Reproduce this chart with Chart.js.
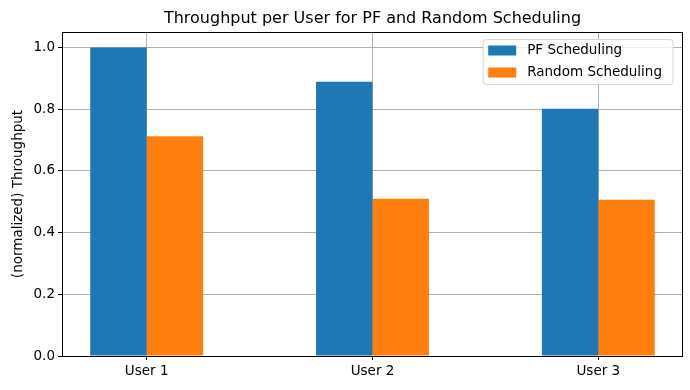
<!DOCTYPE html>
<html>
<head>
<meta charset="utf-8">
<script src="https://cdn.jsdelivr.net/npm/chart.js@4/dist/chart.umd.min.js"></script>
<style>
  body { margin: 0; background: #fff; }
  #wrap { width: 690px; height: 390px; }
</style>
</head>
<body>
<div id="wrap"><canvas id="grafico" width="690" height="390"></canvas></div>
<script>
const usuarios = ['User 1', 'User 2', 'User 3'];
const pfValores = [1.0, 0.889, 0.801];
const randomValores = [0.712, 0.51, 0.506];
const yTicks = [0, 0.2, 0.4, 0.6, 0.8, 1.0];

const fonte = '"DejaVu Sans", sans-serif';

// moldura em volta da area do grafico + legenda dentro, estilo matplotlib
const molduraLegenda = {
    id: 'molduraLegenda',
    afterDraw(chart) {
        const { ctx, chartArea } = chart;
        ctx.save();
        ctx.strokeStyle = '#000';
        ctx.lineWidth = 1;
        ctx.strokeRect(Math.round(chartArea.left) + 0.5, Math.round(chartArea.top) + 0.5,
            Math.round(chartArea.right - chartArea.left) - 1, Math.round(chartArea.bottom - chartArea.top));

        ctx.font = '13.5px ' + fonte;
        const sets = chart.data.datasets;
        const textW = Math.max(...sets.map(d => ctx.measureText(d.label).width));
        const w = 8 + 28 + 11 + textW + 8;
        const h = 45;
        const x = chartArea.right - 10 - w;
        const y = chartArea.top + 7.5;
        ctx.beginPath();
        ctx.roundRect(x, y, w, h, 3);
        ctx.fillStyle = 'rgba(255,255,255,0.8)';
        ctx.fill();
        ctx.strokeStyle = '#d6d6d6';
        ctx.stroke();

        sets.forEach((d, i) => {
            const cy = y + 11 + i * 22;
            ctx.fillStyle = d.backgroundColor;
            ctx.fillRect(x + 5, cy - 5, 28, 10);
            ctx.fillStyle = '#000';
            ctx.textBaseline = 'middle';
            ctx.textAlign = 'left';
            ctx.fillText(d.label, x + 5 + 28 + 11, cy);
        });
        ctx.restore();
    }
};

new Chart(document.getElementById('grafico'), {
    type: 'bar',
    data: {
        datasets: [{
            label: 'PF Scheduling',
            data: pfValores.map((v, i) => ({ x: i, y: v })),
            backgroundColor: '#1f77b4',
            borderWidth: 0
        }, {
            label: 'Random Scheduling',
            data: randomValores.map((v, i) => ({ x: i, y: v })),
            backgroundColor: '#ff7f0e',
            borderWidth: 0
        }]
    },
    options: {
        responsive: false,
        animation: false,
        categoryPercentage: 0.5,
        barPercentage: 1,
        layout: { padding: { left: 0, right: 7, top: 0, bottom: 0 } },
        plugins: {
            legend: { display: false },
            tooltip: { enabled: false },
            title: {
                display: true,
                fullSize: false,
                text: 'Throughput per User for PF and Random Scheduling',
                color: '#000',
                font: { family: fonte, size: 16, weight: 'normal' },
                padding: { top: 9, bottom: 3.8 }
            }
        },
        scales: {
            x: {
                type: 'linear',
                min: -0.375,
                max: 2.375,
                offset: false,
                z: 1,
                afterBuildTicks: s => { s.ticks = usuarios.map((u, i) => ({ value: i })); },
                afterFit: s => { s.height = 34; },
                ticks: {
                    color: '#000',
                    font: { family: fonte, size: 13.5 },
                    padding: 3,
                    maxRotation: 0,
                    autoSkip: false,
                    callback: v => usuarios[v]
                },
                grid: { offset: false, color: '#b0b0b0', tickColor: '#000', tickLength: 4, lineWidth: 1 },
                border: { display: false }
            },
            y: {
                min: 0,
                max: 1.05,
                z: 1,
                afterBuildTicks: s => { s.ticks = yTicks.map(v => ({ value: v })); },
                afterFit: s => { s.width = 62; },
                ticks: {
                    color: '#000',
                    font: { family: fonte, size: 13.5 },
                    padding: 3,
                    callback: v => v.toFixed(1)
                },
                grid: {
                    color: c => (c.tick && c.tick.value === 0 ? 'rgba(0,0,0,0)' : '#b0b0b0'),
                    tickColor: '#000', tickLength: 4, lineWidth: 1
                },
                border: { display: false },
                title: {
                    display: true,
                    text: '(normalized) Throughput',
                    color: '#000',
                    font: { family: fonte, size: 13.5 },
                    padding: { top: 10, bottom: 0 }
                }
            }
        }
    },
    plugins: [molduraLegenda]
});
</script>
</body>
</html>
